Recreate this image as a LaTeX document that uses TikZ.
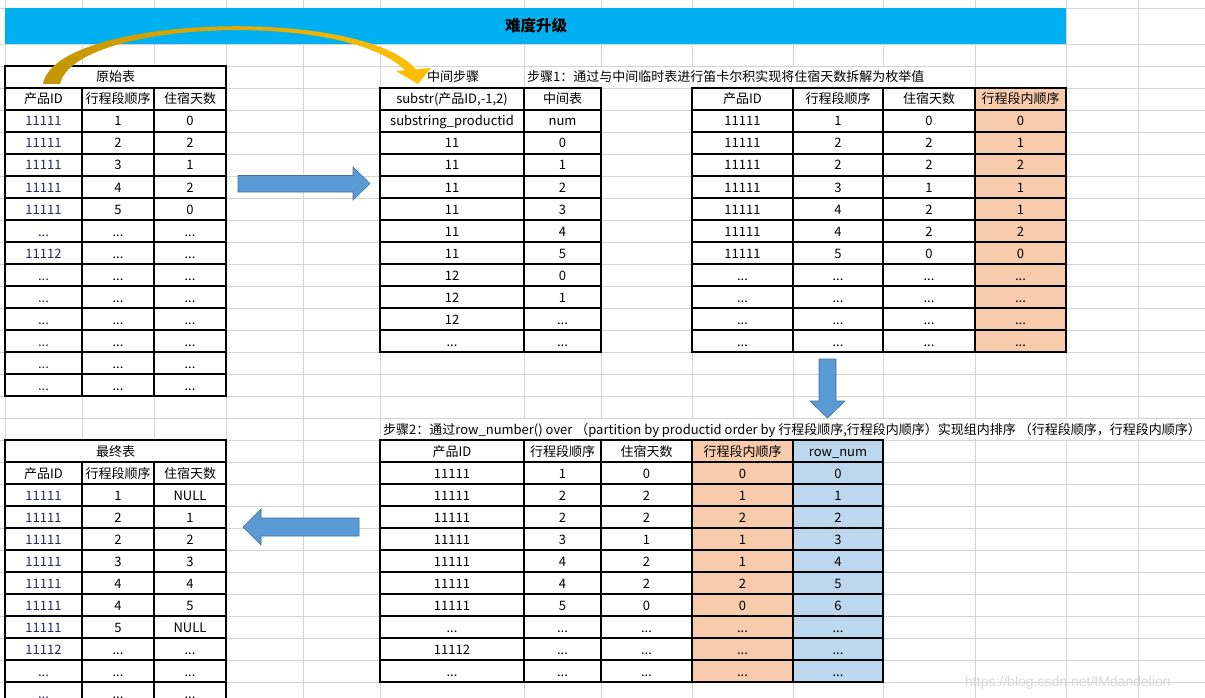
\documentclass[tikz,border=0pt]{standalone}
\usepackage{fontspec}
\setmainfont{Noto Sans CJK SC}
\newfontfamily\wmfont{Liberation Sans}
\newcommand\threedots{...}
\definecolor{gridc}{HTML}{D4D4D4}
\definecolor{bandc}{HTML}{00B0F0}
\definecolor{peach}{HTML}{F8CBAD}
\definecolor{skyc}{HTML}{BDD7EE}
\definecolor{arrowblue}{HTML}{5B9BD5}
\definecolor{arrowedge}{HTML}{41719C}
\definecolor{goldA}{HTML}{C39500}
\definecolor{goldB}{HTML}{FFC000}
\definecolor{idcol}{HTML}{26266E}
\tikzset{
  every node/.style={inner sep=0pt, font=\fontsize{13}{15}\selectfont},
  celltext/.style={anchor=base},
  tableline/.style={black, line width=1.2pt},
  gridline/.style={gridc, line width=0.8pt},
  blockarrow/.style={fill=arrowblue, draw=arrowedge, line width=0.6pt, line join=miter},
}
\begin{document}
\begin{tikzpicture}[x=1pt,y=-1pt]
\useasboundingbox (0,0) rectangle (1205,698);
\clip (0,0) rectangle (1205,698);
\fill[white] (0,0) rectangle (1205,698);
% sheet grid
\foreach \x in {5,82,154,226,303,380,524,601,692,793,883,975,1066,1138}
  \draw[gridline] (\x,0) -- (\x,698);
\foreach \y in {8,44,66,...,704}
  \draw[gridline] (0,\y) -- (1205,\y);
% overflow text areas hide grid
\fill[white] (524.8,66.6) rectangle (974.4,87.4);
\fill[white] (380.6,418.6) rectangle (1205,439.4);
% title band
\fill[bandc] (5,8) rectangle (1066,44);
\node[font=\bfseries\fontsize{15.5}{18}\selectfont] (title) at (536,26) {难度升级};

% ---------- original table ----------
\fill[white] (5,66) rectangle (226,396);
\draw[tableline] (5,66) rectangle (226,396);
\foreach \y in {88,110,...,374} \draw[tableline] (5,\y) -- (226,\y);
\foreach \x in {82,154} \draw[tableline] (\x,88) -- (\x,396);
\node[celltext] (orig-title) at (115.5,82) {原始表};
\foreach [count=\i from 0] \a/\b/\c in {产品ID/行程段顺序/住宿天数,11111/1/0,11111/2/2,11111/3/1,11111/4/2,11111/5/0,\threedots/\threedots/\threedots,11112/\threedots/\threedots,\threedots/\threedots/\threedots,\threedots/\threedots/\threedots,\threedots/\threedots/\threedots,\threedots/\threedots/\threedots,\threedots/\threedots/\threedots,\threedots/\threedots/\threedots}{
  \node[celltext] (orig-\i-1) at (43.5,{104+22*\i}) {\ifnum\i>0 \color{idcol}\fi\a};
  \node[celltext] (orig-\i-2) at (118,{104+22*\i}) {\b};
  \node[celltext] (orig-\i-3) at (190,{104+22*\i}) {\c};
}

% ---------- intermediate table ----------
\node[celltext] (mid-title) at (453,82) {中间步骤};
\node[celltext, anchor=base west] (step1) at (527,82) {步骤1：通过与中间临时表进行笛卡尔积实现将住宿天数拆解为枚举值};
\fill[white] (380,88) rectangle (601,352);
\draw[tableline] (380,88) rectangle (601,352);
\foreach \y in {110,132,...,330} \draw[tableline] (380,\y) -- (601,\y);
\draw[tableline] (524,88) -- (524,352);
\node[celltext] (mid-h-1) at (452,104) {substr(产品ID,-1,2)};
\node[celltext] (mid-h-2) at (562.5,104) {中间表};
\foreach [count=\i from 0] \a/\b in {substring\_productid/num,11/0,11/1,11/2,11/3,11/4,11/5,12/0,12/1,12/\threedots,\threedots/\threedots}{
  \node[celltext] (mid-\i-1) at (452,{126+22*\i}) {\a};
  \node[celltext] (mid-\i-2) at (562.5,{126+22*\i}) {\b};
}

% ---------- step 1 result table ----------
\fill[white] (692,88) rectangle (1066,352);
\fill[peach] (975,88) rectangle (1066,352);
\draw[tableline] (692,88) rectangle (1066,352);
\foreach \y in {110,132,...,330} \draw[tableline] (692,\y) -- (1066,\y);
\foreach \x in {793,883,975} \draw[tableline] (\x,88) -- (\x,352);
\foreach [count=\i from 0] \a/\b/\c/\d in {产品ID/行程段顺序/住宿天数/行程段内顺序,11111/1/0/0,11111/2/2/1,11111/2/2/2,11111/3/1/1,11111/4/2/1,11111/4/2/2,11111/5/0/0,\threedots/\threedots/\threedots/\threedots,\threedots/\threedots/\threedots/\threedots,\threedots/\threedots/\threedots/\threedots,\threedots/\threedots/\threedots/\threedots}{
  \node[celltext] (s1-\i-1) at (742.5,{104+22*\i}) {\a};
  \node[celltext] (s1-\i-2) at (838,{104+22*\i}) {\b};
  \node[celltext] (s1-\i-3) at (929,{104+22*\i}) {\c};
  \node[celltext] (s1-\i-4) at (1020.5,{104+22*\i}) {\d};
}

% ---------- step 2 table ----------
\node[celltext, anchor=base west] (step2) at (383,434) {步骤2：通过row\_number() over （partition by productid order by 行程段顺序,行程段内顺序）实现组内排序 （行程段顺序，行程段内顺序）};
\fill[white] (380,440) rectangle (883,682);
\fill[peach] (692,440) rectangle (793,682);
\fill[skyc] (793,440) rectangle (883,682);
\draw[tableline] (380,440) rectangle (883,682);
\foreach \y in {462,484,...,660} \draw[tableline] (380,\y) -- (883,\y);
\foreach \x in {524,601,692,793} \draw[tableline] (\x,440) -- (\x,682);
\foreach [count=\i from 0] \a/\b/\c/\d/\e in {产品ID/行程段顺序/住宿天数/行程段内顺序/row\_num,11111/1/0/0/0,11111/2/2/1/1,11111/2/2/2/2,11111/3/1/1/3,11111/4/2/1/4,11111/4/2/2/5,11111/5/0/0/6,\threedots/\threedots/\threedots/\threedots/\threedots,11112/\threedots/\threedots/\threedots/\threedots,\threedots/\threedots/\threedots/\threedots/\threedots}{
  \node[celltext] (s2-\i-1) at (452,{456+22*\i}) {\a};
  \node[celltext] (s2-\i-2) at (562.5,{456+22*\i}) {\b};
  \node[celltext] (s2-\i-3) at (646.5,{456+22*\i}) {\c};
  \node[celltext] (s2-\i-4) at (742.5,{456+22*\i}) {\d};
  \node[celltext] (s2-\i-5) at (838,{456+22*\i}) {\e};
}

% ---------- final table ----------
\fill[white] (5,440) rectangle (226,726);
\draw[tableline] (5,440) rectangle (226,726);
\foreach \y in {462,484,...,704} \draw[tableline] (5,\y) -- (226,\y);
\foreach \x in {82,154} \draw[tableline] (\x,462) -- (\x,726);
\node[celltext] (fin-title) at (115.5,456) {最终表};
\foreach [count=\i from 0] \a/\b/\c in {产品ID/行程段顺序/住宿天数,11111/1/NULL,11111/2/1,11111/2/2,11111/3/3,11111/4/4,11111/4/5,11111/5/NULL,11112/\threedots/\threedots,\threedots/\threedots/\threedots,\threedots/\threedots/\threedots}{
  \node[celltext] (fin-\i-1) at (43.5,{478+22*\i}) {\ifnum\i>0 \color{idcol}\fi\a};
  \node[celltext] (fin-\i-2) at (118,{478+22*\i}) {\b};
  \node[celltext] (fin-\i-3) at (190,{478+22*\i}) {\c};
}

% ---------- block arrows ----------
\draw[blockarrow] (238,175.5) -- (353,175.5) -- (353,167) -- (370,183.5) -- (353,200) -- (353,192) -- (238,192) -- cycle;
\draw[blockarrow] (819,359) -- (836,359) -- (836,401) -- (845,401) -- (827.5,418) -- (810,401) -- (819,401) -- cycle;
\draw[blockarrow] (359,518) -- (261,518) -- (261,509) -- (243,527) -- (261,545) -- (261,536) -- (359,536) -- cycle;

% ---------- curved gold arrow ----------
\shade[left color=goldA, right color=goldB]
  (43,84) .. controls (55,15) and (360,5) .. (416,69.3)
  -- (431,68) -- (418,84) -- (396,71) -- (405,70.2)
  .. controls (345,10) and (75,20) .. (60,84) -- cycle;

% watermark
\node[anchor=base west, font=\wmfont\fontsize{14}{16}\selectfont, text=gray!30] (wm) at (965,686) {https://blog.csdn.net/IMdandelion};
\end{tikzpicture}
\end{document}
